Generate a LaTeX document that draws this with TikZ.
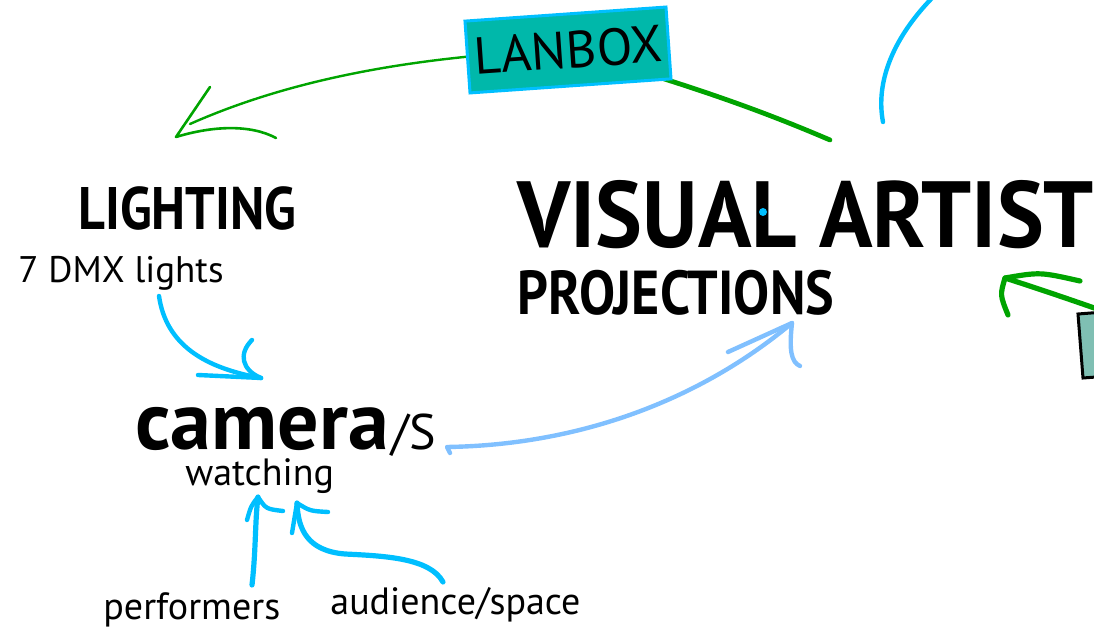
\documentclass[tikz,border=0pt]{standalone}
\usepackage{fontspec}
\usepackage{graphicx}
\setmainfont{PT Sans}
\usetikzlibrary{positioning,backgrounds}
\definecolor{penblue}{HTML}{00BFFF}
\definecolor{paleblue}{HTML}{80C0FF}
\definecolor{pengreen}{HTML}{00A400}
\definecolor{lanteal}{HTML}{00B8AA}
\definecolor{boxteal}{HTML}{7FBFB3}
\newcommand{\squeeze}[2]{\scalebox{#1}[1]{#2}}
\tikzset{
  word/.style={inner sep=0pt, anchor=base west, font=\fontsize{19}{19}\selectfont},
  headword/.style={inner sep=0pt, anchor=base west, font=\bfseries\fontsize{#1}{#1}\selectfont},
  bluepen/.style={draw=penblue, line width=2.2pt, line cap=round, line join=round},
  palepen/.style={draw=paleblue, line width=2.2pt, line cap=round, line join=round},
  greenpen/.style={draw=pengreen, line width=#1, line cap=round, line join=round},
}
\begin{document}
\begin{tikzpicture}[x=0.5pt,y=-0.5pt]
\useasboundingbox (0,0) rectangle (1094,630);

% words
\node[headword=47] (artist) at (517,248) {\squeeze{0.94}{VISUAL ARTIST}};
\node[headword=31] (proj) at (517,315) {\squeeze{0.87}{PROJECTIONS}};
\node[headword=30] (lighting) at (78,230) {\squeeze{0.87}{LIGHTING}};
\node[word, font=\fontsize{18.5}{18.5}\selectfont] (dmx) at (18,283) {7 DMX lights};
\node[headword=41] (camera) at (135,450) {camera};
\node[word, font=\fontsize{25}{25}\selectfont, right=1pt of camera.base east, anchor=base west] (cams) {/S};
\node[word] (watch) at (185,486) {watching};
\node[word] (perf) at (103,620) {performers};
\node[word] (aud) at (330,615) {audience/space};
\node[draw=penblue, line width=1.5pt, fill=lanteal, rotate=4, minimum width=97pt, minimum height=36pt,
  font=\fontsize{26}{26}\selectfont] (lanbox) at (568,50) {LANBOX};

% ends of the strokes
\coordinate (vatop) at (830,140);
\coordinate (lgtend) at (190,124);
\coordinate (lgttip) at (176,137);
\coordinate (dmxtail) at (159,296);
\coordinate (camtip) at (261,378);
\coordinate (perftail) at (252,585);
\coordinate (perftip) at (258,497);
\coordinate (audtail) at (443,582);
\coordinate (audtip) at (297,503);
\coordinate (camtail) at (447,447);
\coordinate (projtip) at (792,323);
\coordinate (sidetail) at (1100,310);
\coordinate (sidetip) at (1005,278);

% green loop through the lanbox
\begin{scope}[on background layer]
\draw[greenpen=2.4pt] (vatop) .. controls (760,110) and (690,85) .. (lanbox.center);
\draw[greenpen=1.2pt] (lanbox.center) .. controls (400,56) and (280,84) .. (lgtend);
\end{scope}
\draw[greenpen=1.3pt] (210,87) -- (lgttip) .. controls (212,126) and (250,124) .. (276,138);

% lights to camera
\draw[bluepen] (dmxtail) .. controls (166,345) and (205,368) .. (camtip);
\draw[bluepen] (198,375) -- (camtip);
\draw[bluepen] (252,340) .. controls (238,354) and (242,370) .. (camtip);

% performers and audience
\draw[bluepen, line width=2.6pt] (perftail) .. controls (256,550) and (255,520) .. (perftip);
\draw[bluepen] (247,520) .. controls (251,506) .. (perftip) .. controls (266,509) .. (283,511);
\draw[bluepen, line width=2.6pt] (audtail) .. controls (430,558) and (385,556) .. (345,554)
  .. controls (308,551) and (298,530) .. (audtip);
\draw[bluepen] (292,533) -- (audtip) .. controls (310,511) .. (328,512);

% camera to projections
\draw[palepen] (450,453) -- (camtail) .. controls (580,445) and (700,400) .. (projtip);
\draw[palepen] (728,352) -- (projtip) .. controls (789,350) and (791,362) .. (800,366);

% stroke off the top
\draw[bluepen] (883,122) .. controls (875,80) and (895,35) .. (935,-5);
\fill[penblue] (763,212) circle (2pt);

% green arrow from the right
\draw[greenpen=2.6pt] (sidetail) .. controls (1060,296) and (1030,286) .. (sidetip);
\draw[greenpen=2.6pt] (1080,281) .. controls (1040,272) .. (sidetip) .. controls (1000,295) .. (1008,315);
\filldraw[fill=boxteal, draw=black, line width=1.5pt] (1078,314) -- (1130,310) -- (1136,374) -- (1083,378) -- cycle;
\end{tikzpicture}
\end{document}
